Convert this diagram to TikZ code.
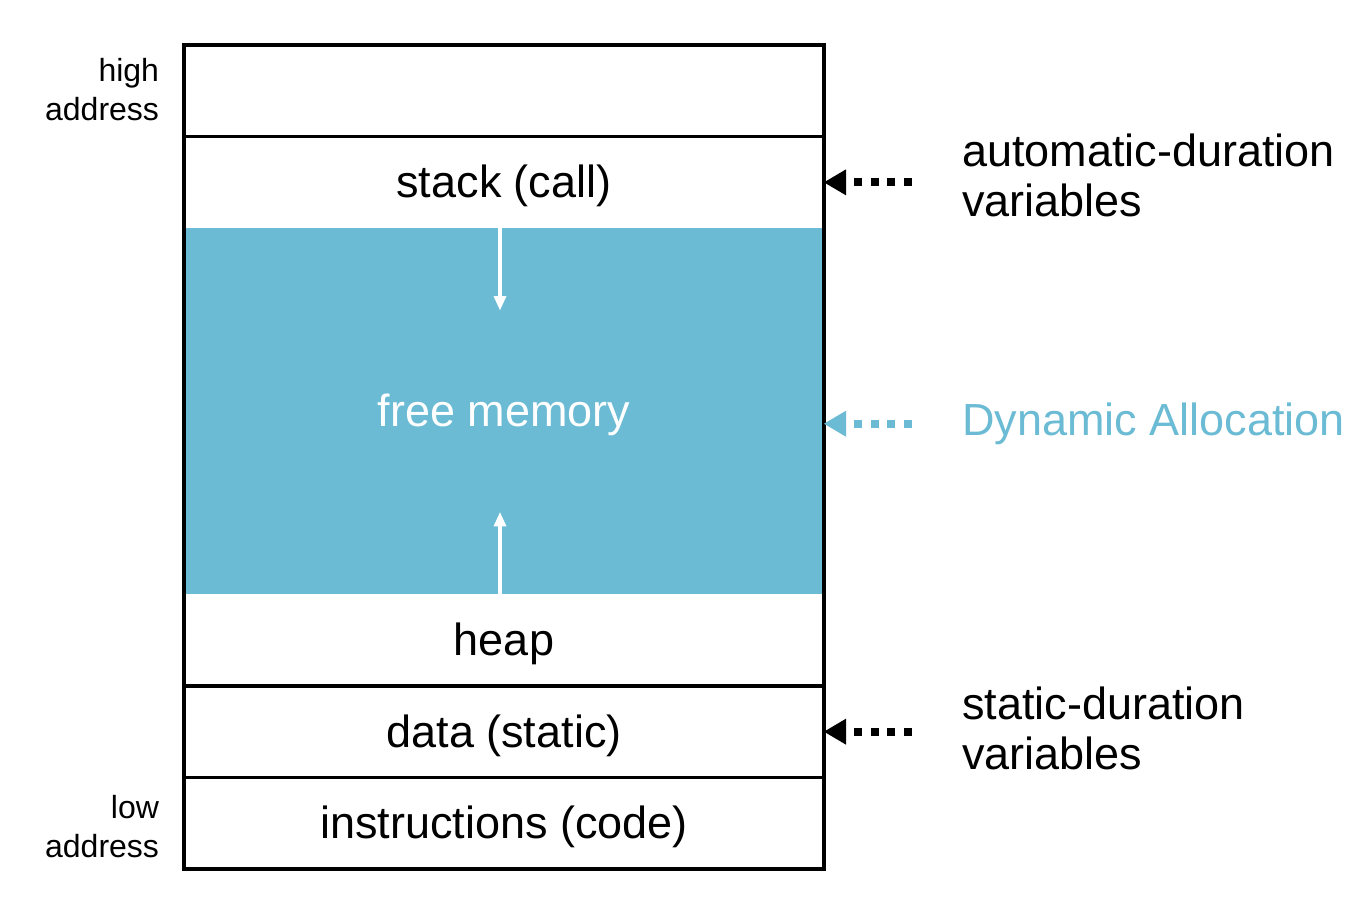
\documentclass[tikz,border=0pt]{standalone}
\usepackage{fontspec}
\setmainfont{Liberation Sans}
\usetikzlibrary{positioning, arrows.meta}
\definecolor{freeblue}{RGB}{107,187,212}

\begin{document}
\begin{tikzpicture}[every node/.style={inner sep=0pt, outer sep=0pt, align=left},
    seg/.style={minimum width=320pt, minimum height=45.78pt, text height=17pt, text depth=1.5pt, font=\fontsize{22.5}{24.5}\selectfont},
    side/.style={font=\fontsize{22.5}{25}\selectfont},
    addr/.style={align=right, font=\fontsize{16}{19.5}\selectfont},
    border/.style={line width=1.8pt},
    dotarrow/.style={line width=4pt, dash pattern=on 4pt off 4.3pt, shorten <=25pt, -{Triangle[length=11pt,width=13pt,line width=0pt]}},
    growarrow/.style={white, line width=1.75pt, -{Triangle[length=7pt,width=6.5pt,line width=0pt]}}]
    \useasboundingbox (0,0) rectangle (684pt,-455pt);

    \node [seg, anchor=north west] (top) at (92pt,-22.5pt) {};
    \node [seg, below=0pt of top] (stack) {stack (call)};
    \node [seg, below=0pt of stack, minimum height=183.1pt, fill=freeblue, text=white] (free) {free memory};
    \node [seg, below=0pt of free] (heap) {heap};
    \node [seg, below=0pt of heap] (data) {data (static)};
    \node [seg, below=0pt of data] (code) {instructions (code)};
    \draw [border] (top.north west) rectangle (code.south east);
    \draw [border] (top.south west) -- (top.south east);
    \draw [border] (heap.south west) -- (heap.south east);
    \draw [border] (data.south west) -- (data.south east);

    % stack grows down, heap grows up
    \coordinate [below left=41pt and 2pt of free.north] (stacktip);
    \coordinate [above left=41pt and 2pt of free.south] (heaptip);
    \draw [growarrow] (stacktip |- free.north) -- (stacktip);
    \draw [growarrow] (heaptip |- free.south) -- (heaptip);

    \node [addr, left=12.5pt of top, yshift=0.5pt] (high) {high\\address};
    \node [addr, left=12.5pt of code, yshift=-1.75pt] (low) {low\\address};

    \node [side, right=69pt of stack, yshift=3.25pt] (autovars) {automatic-duration\\variables};
    \node [side, right=69pt of free, yshift=-6.25pt, text=freeblue] (dyn) {Dynamic Allocation};
    \node [side, right=69pt of data, yshift=1.75pt] (staticvars) {static-duration\\variables};

    \draw [dotarrow] (autovars.west |- stack.east) -- (stack.east);
    \draw [dotarrow, freeblue] (dyn.west) -- (dyn.west -| free.east);
    \draw [dotarrow] (staticvars.west |- data.east) -- (data.east);
\end{tikzpicture}
\end{document}
